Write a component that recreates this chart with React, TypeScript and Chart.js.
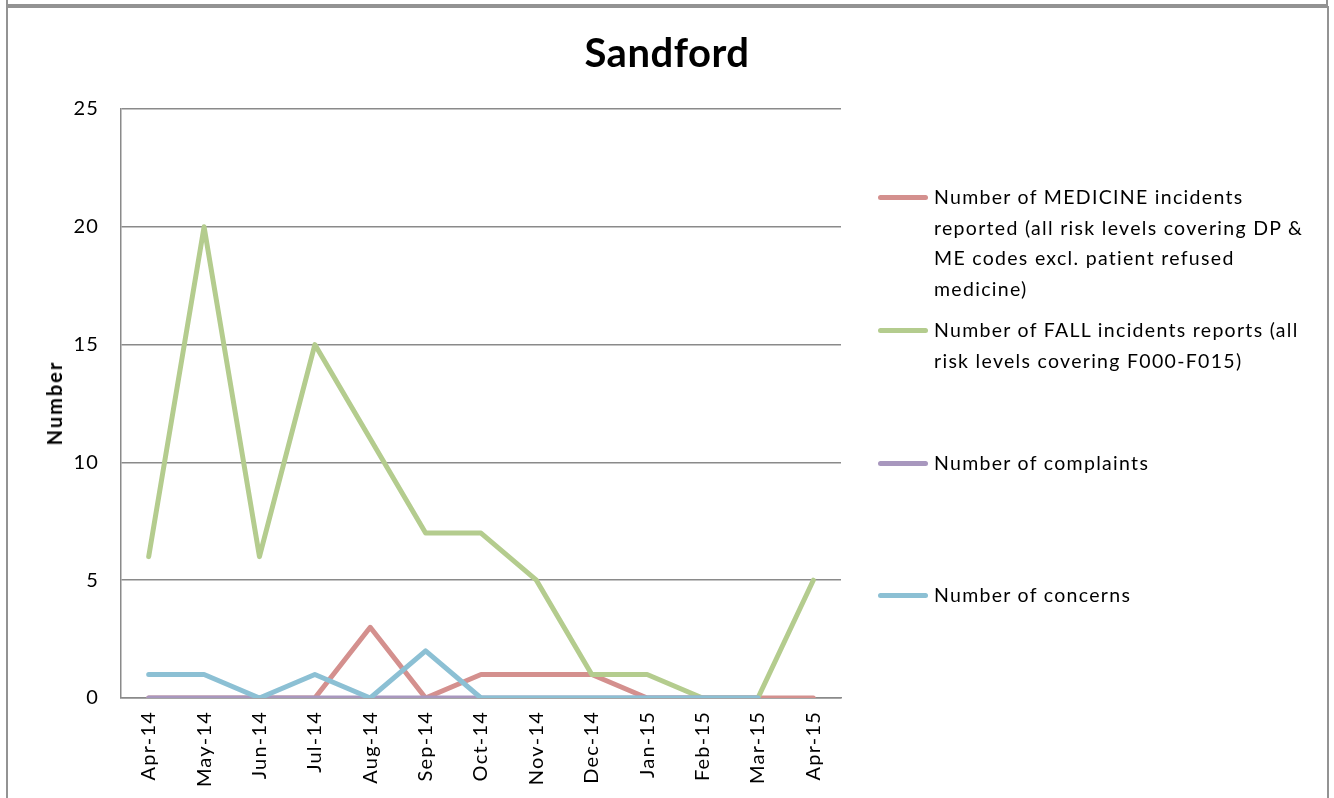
import React, { useEffect, useRef } from "react";
import { Chart, registerables } from "chart.js";
Chart.register(...registerables);

const categories = ["Apr-14", "May-14", "Jun-14", "Jul-14", "Aug-14", "Sep-14", "Oct-14", "Nov-14", "Dec-14", "Jan-15", "Feb-15", "Mar-15", "Apr-15"];
const medicineIncidents = [0, 0, 0, 0, 3, 0, 1, 1, 1, 0, 0, 0, 0];
const fallIncidents = [6, 20, 6, 15, 11, 7, 7, 5, 1, 1, 0, 0, 5];
const complaints = [0, 0, 0, 0, 0, 0, 0, 0, 0, 0, 0, 0, null];
const concerns = [1, 1, 0, 1, 0, 2, 0, 0, 0, 0, 0, 0, null];
const yMin = 0;
const yMax = 25;
const yStep = 5;

const chartTitle = "Sandford";
const yAxisTitle = "Number";
const seriesNames = [
  "Number of MEDICINE incidents reported (all risk levels covering DP & ME codes excl. patient refused medicine)",
  "Number of FALL incidents reports (all risk levels covering F000-F015)",
  "Number of complaints",
  "Number of concerns",
];
const legendLines = [
  ["Number of MEDICINE incidents", "reported (all risk levels covering DP &", "ME codes excl. patient refused", "medicine)"],
  ["Number of FALL incidents reports (all", "risk levels covering F000-F015)"],
  ["Number of complaints"],
  ["Number of concerns"],
];
const seriesColors = ["#D4908E", "#B4CC8E", "#A897BE", "#8CC0D4"];

const FONT = "Lato, 'Open Sans', sans-serif";
const GRID = "#8a8a8a";

const letterSpacingPlugin = {
  id: "letterSpacingPlugin",
  beforeDraw(chart: any) {
    try {
      (chart.ctx as any).letterSpacing = "1.2px";
    } catch (e) {}
  },
};

export default function App() {
  const canvasRef = useRef<HTMLCanvasElement | null>(null);

  useEffect(() => {
    const prevMargin = document.body.style.margin;
    document.body.style.margin = "0";
    const ctx = canvasRef.current!.getContext("2d")!;
    const seriesData = [medicineIncidents, fallIncidents, complaints, concerns];
    const chart = new Chart(ctx, {
      type: "line",
      data: {
        labels: categories,
        datasets: seriesData.map((d, i) => ({
          label: seriesNames[i],
          data: d,
          borderColor: seriesColors[i],
          backgroundColor: seriesColors[i],
          borderWidth: 5,
          pointRadius: 0,
          pointHoverRadius: 0,
          tension: 0,
          fill: false,
          borderJoinStyle: "round" as const,
          borderCapStyle: "round" as const,
          order: seriesData.length - i,
          spanGaps: false,
        })),
      },
      plugins: [letterSpacingPlugin],
      options: {
        animation: false,
        responsive: false,
        maintainAspectRatio: false,
        events: [],
        layout: { padding: { left: 0, top: 109, right: 1334 - 841, bottom: 0 } },
        plugins: {
          legend: { display: false },
          title: { display: false },
          tooltip: { enabled: false },
        },
        scales: {
          x: {
            type: "category",
            offset: true,
            grid: { display: false, drawTicks: false },
            border: { display: true, color: GRID, width: 1.5 },
            ticks: {
              autoSkip: false,
              maxRotation: 90,
              minRotation: 90,
              padding: 13,
              color: "#000",
              font: { family: FONT, size: 20 },
            },
            afterFit: (scale: any) => {
              scale.height = 798 - 698;
            },
          },
          y: {
            min: yMin,
            max: yMax,
            grid: { display: true, color: GRID, lineWidth: 1.5, drawTicks: false },
            border: { display: true, color: GRID, width: 1.5 },
            ticks: {
              stepSize: yStep,
              padding: 22,
              color: "#000",
              font: { family: FONT, size: 20 },
            },
            afterFit: (scale: any) => {
              scale.width = 121;
            },
          },
        },
      },
    });
    return () => {
      chart.destroy();
      document.body.style.margin = prevMargin;
    };
  }, []);

  const legendTops = [197, 330, 463, 595];

  return (
    <div style={{ position: "fixed", left: 0, top: 0, width: 1334, height: 798, overflow: "hidden", background: "#fff" }}>
      <div style={{ position: "absolute", left: 6, top: -60, width: 1318, height: 62, border: "2px solid #939393" }} />
      <div style={{ position: "absolute", left: 6, top: 6, width: 1319, height: 900, border: "2px solid #939393" }} />
      <canvas ref={canvasRef} width={1334} height={798} style={{ position: "absolute", left: 0, top: 0, width: 1334, height: 798 }} />
      <div
        style={{
          position: "absolute",
          left: 0,
          width: 1334,
          top: 30,
          textAlign: "center",
          fontFamily: FONT,
          fontWeight: 700,
          fontSize: 40,
          letterSpacing: "0.5px",
          lineHeight: "44px",
          color: "#000",
        }}
      >
        {chartTitle}
      </div>
      <div
        style={{
          position: "absolute",
          left: 54,
          top: 403,
          transform: "translate(-50%, -50%) rotate(-90deg)",
          fontFamily: FONT,
          fontWeight: 700,
          fontSize: 20,
          letterSpacing: "2px",
          color: "#000",
          whiteSpace: "nowrap",
        }}
      >
        {yAxisTitle}
      </div>
      {legendLines.map((lines, i) => (
        <div key={i} style={{ position: "absolute", left: 878, top: legendTops[i] - 15 }}>
          <div
            style={{
              position: "absolute",
              left: 0,
              top: 13,
              width: 50,
              height: 5,
              borderRadius: 2.5,
              background: seriesColors[i],
            }}
          />
          <div
            style={{
              position: "absolute",
              left: 56,
              top: 0,
              fontFamily: FONT,
              fontSize: 19.5,
              lineHeight: "30.7px",
              color: "#000",
              whiteSpace: "nowrap",
              letterSpacing: "1.3px",
            }}
          >
            {lines.map((l, j) => (
              <div key={j}>{l}</div>
            ))}
          </div>
        </div>
      ))}
    </div>
  );
}
